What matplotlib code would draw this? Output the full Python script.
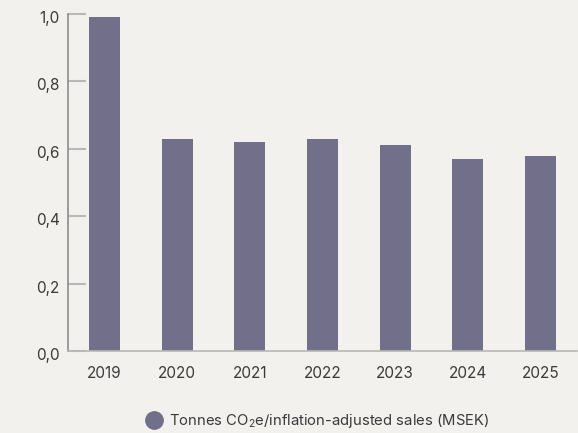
import matplotlib
matplotlib.use("Agg")
import matplotlib.pyplot as plt
from matplotlib.lines import Line2D
from matplotlib.ticker import FuncFormatter
from matplotlib.transforms import ScaledTranslation

years = ["2019", "2020", "2021", "2022", "2023", "2024", "2025"]
values = [0.99, 0.63, 0.62, 0.63, 0.61, 0.57, 0.58]
yticks = [0.0, 0.2, 0.4, 0.6, 0.8, 1.0]
legend_label = "Tonnes CO$_2$e/inflation-adjusted sales (MSEK)"

bg = "#f2f1ed"
bar_color = "#716f8a"
text_color = "#3a3a3a"

plt.rcParams['font.family'] = ['Inter', 'DejaVu Sans']
plt.rcParams['mathtext.fontset'] = 'custom'
plt.rcParams['mathtext.rm'] = 'Inter'
plt.rcParams['mathtext.it'] = 'Inter'
plt.rcParams['mathtext.bf'] = 'Inter'
plt.rcParams['mathtext.default'] = 'regular'

fig = plt.figure(figsize=(5.78, 4.33), dpi=100, facecolor=bg)
ax = fig.add_axes([68.3/578, 1 - 351/433, (576.7-68.3)/578, (351-14)/433])
ax.set_facecolor(bg)

x = list(range(len(years)))
ax.bar(x, values, width=0.43, color=bar_color, zorder=2)
ax.set_xlim(-0.5, 6.5)
ax.set_ylim(0, 1.0)
ax.set_xticks(x)
ax.set_xticklabels(years)
ax.set_yticks(yticks)
ax.yaxis.set_major_formatter(FuncFormatter(lambda v, p: f"{v:.1f}".replace(".", ",")))

for s in ["top", "right"]:
    ax.spines[s].set_visible(False)
ax.spines["left"].set_color("#8c8c8c")
ax.spines["left"].set_linewidth(1.2)
ax.spines["bottom"].set_color("#b8b8b8")
ax.spines["bottom"].set_linewidth(1.2)

ax.tick_params(axis="y", direction="in", length=13, width=1.5, color="#b8b8b8",
               pad=6, labelsize=11, labelcolor=text_color)
ax.tick_params(axis="x", length=0, pad=11, labelsize=11, labelcolor=text_color)

offset = ScaledTranslation(0, -3/100, fig.dpi_scale_trans)
for lbl in ax.get_yticklabels():
    lbl.set_transform(lbl.get_transform() + offset)

handle = Line2D([], [], marker="o", linestyle="none", markersize=12.5,
                markerfacecolor=bar_color, markeredgecolor=bar_color)
fig.legend([handle], [legend_label], loc="center", bbox_to_anchor=(318/578, 1 - 421/433),
           frameon=False, fontsize=10.7, labelcolor=text_color, handletextpad=0.5,
           borderpad=0, handlelength=1)

fig.savefig("out.png", dpi=100, facecolor=bg)
